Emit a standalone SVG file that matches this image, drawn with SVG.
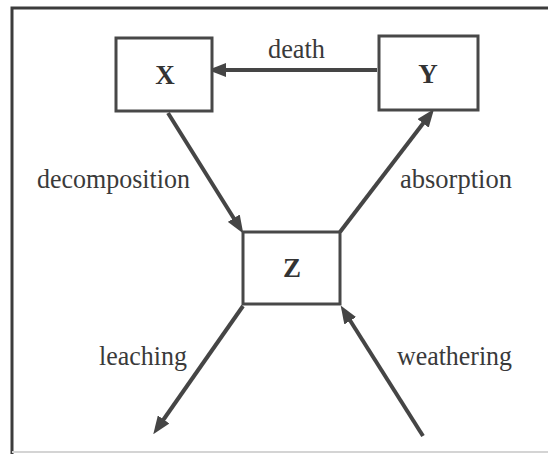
<svg xmlns="http://www.w3.org/2000/svg" width="548" height="454" viewBox="0 0 548 454">
<style>
.box{fill:#fff;stroke:#484848;stroke-width:3}
.lbl{font-family:"Liberation Serif","DejaVu Serif",serif;font-size:28px;fill:#3a3a3a}
.node{font-family:"Liberation Serif","DejaVu Serif",serif;font-size:27px;font-weight:bold;fill:#333;text-anchor:middle}
.edge{stroke:#454545;stroke-width:4;fill:none;marker-end:url(#ah)}
</style>
<defs>
<marker id="ah" markerUnits="userSpaceOnUse" markerWidth="18" markerHeight="14" viewBox="0 0 18 14" refX="8" refY="7" orient="auto">
<path d="M0,0 L18,7 L0,14 Z" fill="#454545"/>
</marker>
</defs>
<rect width="548" height="454" fill="#fff"/>
<g id="frame">
<path d="M12,454 L12,8 L548,8" fill="none" stroke="#3c3c3c" stroke-width="3"/>
<line x1="12" y1="452" x2="548" y2="452" stroke="#d4d4d4" stroke-width="2"/>
</g>
<g id="connectors">
<line class="edge" x1="377" y1="70" x2="218" y2="70"/>
<line class="edge" x1="168" y1="113" x2="238" y2="225"/>
<line class="edge" x1="340" y1="232" x2="428" y2="117"/>
<line class="edge" x1="243" y1="306" x2="159" y2="426"/>
<line class="edge" x1="423" y1="436" x2="346" y2="314"/>
</g>
<g id="labels">
<text class="lbl" x="268" y="58" textLength="57" lengthAdjust="spacingAndGlyphs">death</text>
<text class="lbl" x="37" y="188" textLength="153" lengthAdjust="spacingAndGlyphs">decomposition</text>
<text class="lbl" x="400" y="188" textLength="112" lengthAdjust="spacingAndGlyphs">absorption</text>
<text class="lbl" x="99" y="365" textLength="88" lengthAdjust="spacingAndGlyphs">leaching</text>
<text class="lbl" x="397" y="365" textLength="115" lengthAdjust="spacingAndGlyphs">weathering</text>
</g>
<g id="node-X">
<rect class="box" x="116" y="38" width="96" height="73"/>
<text class="node" x="165" y="84">X</text>
</g>
<g id="node-Y">
<rect class="box" x="379" y="36" width="99" height="74"/>
<text class="node" x="428" y="83">Y</text>
</g>
<g id="node-Z">
<rect class="box" x="243" y="232" width="97" height="72"/>
<text class="node" x="292" y="277">Z</text>
</g>
</svg>
